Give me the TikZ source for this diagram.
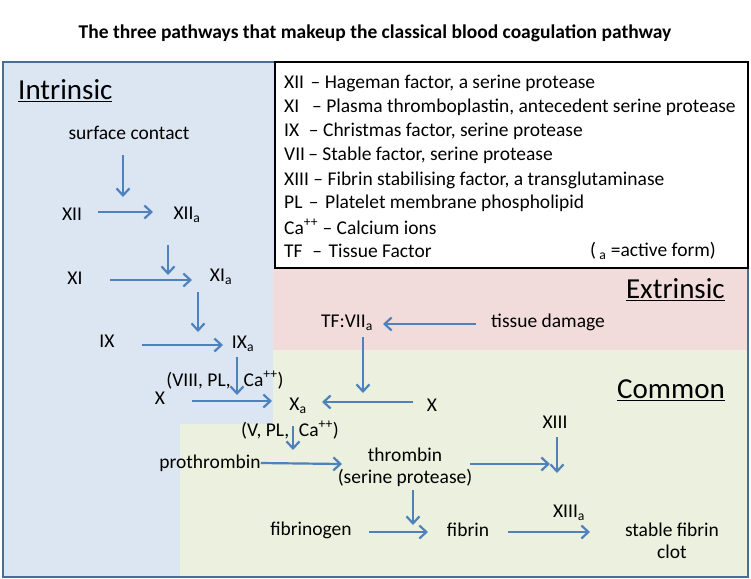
\documentclass[tikz,border=0pt]{standalone}
\usepackage{fontspec}
\setmainfont{Carlito}
\usetikzlibrary{arrows.meta}
\definecolor{bl}{HTML}{DCE6F2}
\definecolor{pk}{HTML}{F2DCDB}
\definecolor{gr}{HTML}{EBF1DE}
\definecolor{ar}{HTML}{4F81BD}
\definecolor{bd}{HTML}{4A6E92}
\begin{document}
\begin{tikzpicture}[x=1pt,y=-1pt,
  t/.style={inner sep=0pt,font=\fontsize{19.5}{22}\selectfont},
  lg/.style={inner sep=0pt,anchor=west,font=\fontsize{19.5}{22}\selectfont},
  hd/.style={inner sep=0pt,font=\fontsize{29}{31}\selectfont},
  a/.style={draw=ar,line width=2.2pt,-{Straight Barb[length=7pt,width=13pt,line width=2.2pt]}}]
\useasboundingbox (0,0) rectangle (751,578);
\fill[white] (0,0) rectangle (751,578);
\node[inner sep=0pt,font=\bfseries\fontsize{19.5}{22}\selectfont] (title) at (375,33) {The three pathways that makeup the classical blood coagulation pathway};
\fill[bl] (3,62) rectangle (748,577);
\fill[pk] (273,268) rectangle (748,350);
\fill[gr] (273,350) -- (748,350) -- (748,577) -- (180,577) -- (180,424) -- (273,424) -- cycle;
\draw[bd,line width=1.5pt] (3,62) rectangle (748,577);
\draw[black,line width=2pt,fill=white] (275,62) rectangle (748,268);
\node[lg] (l1) at (284,83) {XII\,\,– Hageman factor, a serine protease};
\node[lg] (l2) at (284,107) {XI\,\,\,\,– Plasma thromboplastin, antecedent serine protease};
\node[lg] (l3) at (284,131) {IX\,\,\,– Christmas factor, serine protease};
\node[lg] (l4) at (284,155) {VII\,– Stable factor, serine protease};
\node[lg] (l5) at (284,180) {XIII – Fibrin stabilising factor, a transglutaminase};
\node[lg] (l6) at (284,203) {PL\,\,–\,\,Platelet membrane phospholipid};
\node[lg] (l7) at (284,227) {Ca\textsuperscript{++} – Calcium ions};
\node[lg] (l8) at (284,251) {TF\,\,\,–\,\,Tissue Factor};
\node[lg] (l9) at (590,251) {(\,\textsubscript{a} =active form)};
\node[hd,anchor=west] (intr) at (18,91) {\underline{Intrinsic}};
\node[hd,anchor=east] (extr) at (725,290) {\underline{Extrinsic}};
\node[hd,anchor=east] (comm) at (725,390) {\underline{Common}};
\node[t] (sc) at (129,133) {surface contact};
\node[t] (xii) at (72,214) {XII};
\node[t] (xiia) at (187,215) {XII\textsubscript{a}};
\node[t] (xi) at (75,278) {XI};
\node[t] (xia) at (221,277) {XI\textsubscript{a}};
\node[t] (ix) at (107,341) {IX};
\node[t] (ixa) at (243,344) {IX\textsubscript{a}};
\node[t] (c1) at (225,380) {(VIII, PL,\,\,\,\,Ca\textsuperscript{++})};
\node[t] (x1) at (160,398) {X};
\node[t] (xa) at (298,406) {X\textsubscript{a}};
\node[t] (tf) at (347,323) {TF:VII\textsubscript{a}};
\node[t] (td) at (548,322) {tissue damage};
\node[t] (x2) at (432,405) {X};
\node[t] (c2) at (290,430) {(V, PL,\,\,\,Ca\textsuperscript{++})};
\node[t] (pro) at (210,463) {prothrombin};
\node[t,align=center] (thr) at (405,467) {thrombin\\(serine protease)};
\node[t] (xiii) at (555,422) {XIII};
\node[t] (xiiia) at (569,513) {XIII\textsubscript{a}};
\node[t] (fgn) at (311,530) {fibrinogen};
\node[t] (fib) at (468,530) {fibrin};
\node[t,align=center] (sfc) at (672,541) {stable fibrin\\clot};
\coordinate (p1) at (123,155); \coordinate (q1) at (123,197);
\coordinate (p2) at (168,245); \coordinate (q2) at (168,275);
\coordinate (p3) at (198,292); \coordinate (q3) at (198,332);
\coordinate (p4) at (237,357); \coordinate (q4) at (237,395);
\coordinate (p5) at (363,337); \coordinate (q5) at (363,393);
\coordinate (p6) at (293,426); \coordinate (q6) at (293,450);
\coordinate (p7) at (557,437); \coordinate (q7) at (557,473);
\coordinate (p8) at (413,490); \coordinate (q8) at (413,525);
\draw[a] (p1) -- (q1);
\draw[a] (p2) -- (q2);
\draw[a] (p3) -- (q3);
\draw[a] (p4) -- (q4);
\draw[a] (p5) -- (q5);
\draw[a] (p6) -- (q6);
\draw[a] (p7) -- (q7);
\draw[a] (p8) -- (q8);
\draw[a] (98,212) coordinate (h1) -- (153,212);
\draw[a] (110,280) coordinate (h2) -- (192,280);
\draw[a] (142,345) coordinate (h3) -- (223,345);
\draw[a] (192,401) coordinate (h4) -- (272,401);
\draw[a] (476,324) coordinate (h5) -- (383,324);
\draw[a] (413,402) coordinate (h6) -- (322,402);
\draw[a] (pro.east) -- (342,464);
\draw[a] (470,464) coordinate (h7) -- (550,464);
\draw[a] (369,532) coordinate (h8) -- (428,532);
\draw[a] (508,532) coordinate (h9) -- (590,532);
\end{tikzpicture}
\end{document}
